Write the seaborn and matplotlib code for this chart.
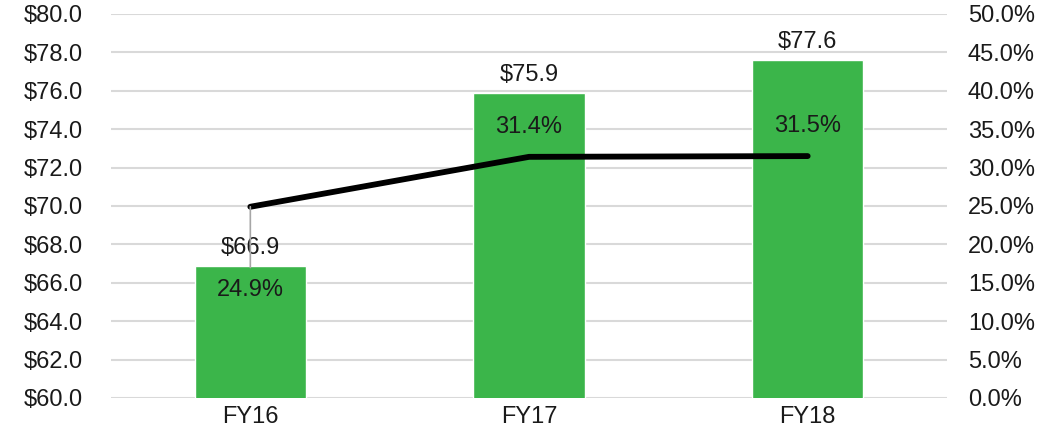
import matplotlib
matplotlib.use("Agg")
import matplotlib.pyplot as plt
import seaborn as sns
import pandas as pd
from matplotlib.ticker import FuncFormatter, MultipleLocator

categories = ["FY16", "FY17", "FY18"]
revenue = [66.9, 75.9, 77.6]
margin_pct = [24.9, 31.4, 31.5]

sns.set_theme(style="white")
plt.rcParams["font.family"] = ["Liberation Sans", "DejaVu Sans"]

GREEN = "#3BB54A"
GRID = "#D9D9D9"
TXT = "#1A1A1A"
FS = 17

df = pd.DataFrame({"cat": categories, "rev": revenue, "m": margin_pct})

fig = plt.figure(figsize=(10.63, 4.41), dpi=100)
ax = fig.add_axes([111/1063, 1 - 398/441, (947-111)/1063, (398-14)/441])

sns.barplot(data=df, x="cat", y="rev", color=GREEN, width=0.40, ax=ax,
            saturation=1, zorder=2)
ax.set_ylim(60, 80)
ax.set_xlim(-0.5, 2.5)
ax.yaxis.set_major_locator(MultipleLocator(2))
ax.yaxis.set_major_formatter(FuncFormatter(lambda v, p: f"${v:.1f}"))
ax.grid(axis="y", color=GRID, linewidth=1.5, zorder=0)
ax.set_axisbelow(True)
for s in ax.spines.values():
    s.set_visible(False)
ax.set_xlabel("")
ax.set_ylabel("")
ax.tick_params(axis="y", length=0, pad=20, labelsize=FS, labelcolor=TXT)
ax.tick_params(axis="x", length=0, pad=6, labelsize=FS, labelcolor=TXT)

for i, v in enumerate(revenue):
    ax.annotate(f"${v:.1f}", xy=(i, v), xytext=(0, 5), textcoords="offset points",
                ha="center", va="bottom", fontsize=FS, color=TXT)

ax2 = ax.twinx()
sns.lineplot(data=df, x="cat", y="m", color="black", linewidth=4.2, ax=ax2,
             zorder=3)
ax2.set_ylim(0, 50)
ax2.yaxis.set_major_locator(MultipleLocator(5))
ax2.yaxis.set_major_formatter(FuncFormatter(lambda v, p: f"{v:.1f}%"))
for s in ax2.spines.values():
    s.set_visible(False)
ax2.set_ylabel("")
ax2.set_xlabel("")
ax2.grid(False)
ax2.tick_params(axis="y", length=0, pad=15, labelsize=FS, labelcolor=TXT)
ax2.set_xlim(-0.5, 2.5)

for i, v in enumerate(margin_pct):
    if i == 0:
        ax2.annotate(f"{v:.1f}%", xy=(i, v), xytext=(0, -60),
                     textcoords="offset points", ha="center", va="center",
                     fontsize=FS, color=TXT,
                     arrowprops=dict(arrowstyle="-", color="#A6A6A6", lw=1.2,
                                     shrinkA=6, shrinkB=0))
    else:
        ax2.annotate(f"{v:.1f}%", xy=(i, v), xytext=(0, 21.5),
                     textcoords="offset points", ha="center", va="center",
                     fontsize=FS, color=TXT)

fig.savefig("out.png", dpi=100)
